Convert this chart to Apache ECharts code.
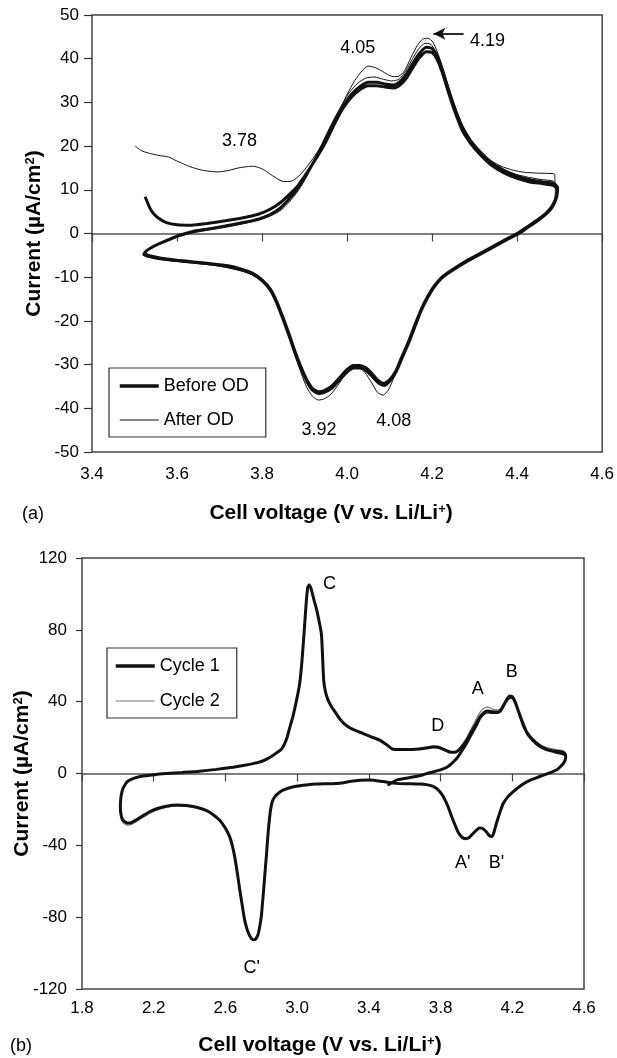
<!DOCTYPE html>
<html>
<head>
<meta charset="utf-8">
<title>Cyclic voltammograms</title>
<script src="https://cdn.jsdelivr.net/npm/echarts@6/dist/echarts.min.js"></script>
<style>
  html, body { margin: 0; padding: 0; background: #fff; }
  #chart { width: 617px; height: 1058px; }
</style>
</head>
<body>
<div id="chart"></div>
<script>
  // ---------- (a) before / after over-discharge ----------
  const xTicksA = { min: 3.4, max: 4.6, interval: 0.2 };
  const yTicksA = { min: -50, max: 50, interval: 10 };

  // thick: before OD, first anodic sweep
  const beforeAnodic1 = [[3.525,8.4],[3.533,6.5],[3.541,5.0],[3.555,3.6],[3.575,2.5],[3.6,2.0],[3.635,1.9],[3.67,2.3],[3.713,2.9],[3.75,3.5],[3.791,4.4],[3.82,5.6],[3.845,7.2],[3.865,9.0],[3.885,11.0],[3.905,13.8],[3.93,17.6],[3.95,21.0],[3.97,25.0],[3.99,28.6],[4.01,31.2],[4.03,32.9],[4.05,33.8],[4.07,33.8],[4.09,33.5],[4.11,33.3],[4.125,34.0],[4.14,35.6],[4.155,38.0],[4.17,40.2],[4.186,41.6],[4.2,41.4],[4.212,39.8],[4.225,36.5],[4.24,31.8],[4.255,27.5],[4.27,23.8],[4.29,20.7],[4.31,18.4],[4.34,15.6],[4.37,13.8],[4.4,12.6],[4.43,11.8],[4.46,11.4],[4.485,11.0],[4.495,10.0]];
  const beforeCathodic1 = [[4.493,8.4],[4.488,7.0],[4.478,5.4],[4.465,4.2],[4.445,2.7],[4.425,1.4],[4.404,0],[4.38,-1.2],[4.35,-2.8],[4.32,-4.4],[4.28,-6.5],[4.25,-8.3],[4.225,-10.0],[4.205,-12.2],[4.19,-14.6],[4.175,-17.5],[4.16,-21.2],[4.145,-25.0],[4.128,-28.8],[4.115,-31.7],[4.1,-33.8],[4.087,-34.8],[4.075,-34.3],[4.06,-32.8],[4.045,-31.4],[4.03,-30.8],[4.015,-30.8],[4.0,-31.7],[3.985,-33.2],[3.965,-35.3],[3.945,-36.4],[3.932,-36.6],[3.918,-35.8],[3.905,-33.8],[3.892,-31.0],[3.878,-27.5],[3.865,-23.8],[3.85,-19.8],[3.835,-16.0],[3.82,-13.0],[3.8,-10.8],[3.776,-9.2],[3.75,-8.3],[3.72,-7.6],[3.68,-7.0],[3.64,-6.6],[3.6,-6.2],[3.56,-5.8],[3.535,-5.3],[3.522,-4.8]];
  const beforeAnodic2 = [[3.528,-4.0],[3.54,-3.2],[3.556,-2.4],[3.58,-1.4],[3.603,-0.5],[3.635,0.4],[3.67,1.0],[3.713,1.7],[3.75,2.4],[3.791,3.3],[3.82,4.4],[3.84,5.6],[3.86,7.5],[3.88,9.8],[3.9,12.8],[3.925,17.0],[3.95,21.6],[3.97,25.6],[3.99,29.0],[4.01,31.8],[4.03,33.6],[4.05,34.6],[4.07,34.6],[4.09,34.2],[4.11,34.0],[4.125,34.8],[4.14,36.6],[4.155,39.0],[4.17,41.2],[4.186,42.6],[4.2,42.3],[4.212,40.6],[4.225,37.2],[4.24,32.5],[4.255,28.2],[4.27,24.5],[4.29,21.3],[4.31,19.0],[4.34,16.2],[4.37,14.4],[4.4,13.1],[4.43,12.3],[4.46,11.8],[4.485,11.5],[4.495,10.5]];
  const beforeCathodic2 = [[4.493,8.8],[4.488,7.3],[4.478,5.7],[4.465,4.4],[4.445,2.9],[4.425,1.6],[4.404,0.2],[4.38,-1.0],[4.35,-2.6],[4.32,-4.2],[4.28,-6.3],[4.25,-8.1],[4.225,-9.8],[4.205,-12.0],[4.19,-14.3],[4.175,-17.2],[4.16,-20.8],[4.145,-24.6],[4.128,-28.4],[4.115,-31.4],[4.1,-33.5],[4.087,-34.3],[4.075,-33.8],[4.06,-32.2],[4.045,-30.8],[4.03,-30.2],[4.015,-30.2],[4.0,-31.1],[3.985,-32.7],[3.965,-34.8],[3.945,-36.0],[3.932,-36.2],[3.918,-35.4],[3.905,-33.4],[3.892,-30.6],[3.878,-27.1],[3.865,-23.4],[3.85,-19.4],[3.835,-15.7],[3.82,-12.8],[3.8,-10.6],[3.776,-9.0],[3.75,-8.1],[3.72,-7.4],[3.68,-6.9],[3.64,-6.5],[3.6,-6.1],[3.56,-5.6],[3.535,-5.1],[3.523,-4.6]];

  // thin: after OD
  const afterAnodic1 = [[3.502,20.0],[3.515,19.0],[3.533,18.4],[3.555,17.9],[3.58,17.5],[3.595,16.8],[3.611,16.1],[3.63,15.3],[3.658,14.5],[3.68,14.2],[3.697,14.1],[3.72,14.4],[3.744,15.0],[3.765,15.3],[3.78,15.4],[3.795,15.0],[3.807,14.4],[3.825,13.2],[3.85,11.9],[3.87,12.0],[3.885,13.0],[3.9,14.6],[3.92,17.2],[3.94,20.2],[3.96,23.8],[3.979,27.5],[4.0,31.8],[4.018,35.0],[4.035,37.2],[4.049,38.3],[4.065,38.0],[4.08,37.3],[4.095,36.4],[4.108,35.9],[4.122,36.0],[4.135,37.2],[4.151,40.4],[4.165,43.0],[4.178,44.5],[4.19,44.7],[4.202,43.8],[4.212,41.6],[4.222,38.8],[4.235,34.6],[4.248,30.6],[4.262,27.0],[4.276,23.9],[4.295,20.8],[4.316,18.4],[4.34,16.6],[4.362,15.4],[4.39,14.5],[4.417,14.0],[4.45,13.8],[4.488,13.6],[4.489,11.5],[4.49,10.0]];
  const afterCathodic1 = [[4.488,7.8],[4.478,6.0],[4.462,4.4],[4.44,2.8],[4.42,1.5],[4.4,0.2],[4.375,-1.2],[4.345,-2.9],[4.31,-4.8],[4.27,-7.0],[4.24,-8.9],[4.218,-10.8],[4.2,-13.0],[4.185,-15.5],[4.17,-18.5],[4.155,-22.0],[4.14,-25.8],[4.125,-29.5],[4.11,-33.0],[4.097,-35.8],[4.085,-37.0],[4.072,-36.4],[4.058,-34.2],[4.042,-31.8],[4.027,-30.6],[4.012,-30.7],[3.998,-32.0],[3.982,-34.2],[3.962,-36.8],[3.945,-37.9],[3.932,-38.1],[3.918,-37.2],[3.905,-35.2],[3.892,-32.0],[3.878,-28.0],[3.864,-24.0],[3.85,-20.0],[3.835,-16.2],[3.82,-13.2],[3.8,-11.0],[3.776,-9.4],[3.75,-8.5],[3.72,-7.8],[3.68,-7.2],[3.64,-6.8],[3.6,-6.4],[3.56,-5.9],[3.535,-5.4],[3.52,-4.9]];
  const afterAnodic2 = [[3.525,-4.2],[3.54,-3.4],[3.556,-2.6],[3.58,-1.7],[3.603,-0.8],[3.635,0.1],[3.67,0.7],[3.713,1.4],[3.75,2.1],[3.791,3.0],[3.82,4.0],[3.845,5.4],[3.865,7.3],[3.885,9.8],[3.905,13.0],[3.925,17.2],[3.945,21.4],[3.965,25.4],[3.985,29.0],[4.005,32.2],[4.025,34.4],[4.045,35.6],[4.065,35.8],[4.085,35.3],[4.105,34.9],[4.122,35.3],[4.138,37.2],[4.153,39.8],[4.168,42.2],[4.183,43.5],[4.197,43.3],[4.209,41.5],[4.222,38.0],[4.237,33.2],[4.252,28.8],[4.267,25.0],[4.285,21.8],[4.306,19.3],[4.335,16.6],[4.365,14.8],[4.395,13.6],[4.43,12.8],[4.46,12.3],[4.485,12.0],[4.493,10.8]];

  const peakTextA = ['3.78', '4.05', '4.19', '3.92', '4.08'];
  const peakAtA = [[3.747,21.1],[4.025,42.4],[4.33,44.0],[3.934,-45.0],[4.11,-42.9]];
  const arrowA = [[4.274,45.7],[4.203,45.7]];

  // ---------- (b) first two cycles 2.0 - 4.5 V ----------
  const xTicksB = { min: 1.8, max: 4.6, interval: 0.4 };
  const yTicksB = { min: -120, max: 120, interval: 40 };

  const cycle1 = [[3.505,-6.5],[3.53,-5.0],[3.553,-3.7],[3.6,-2.8],[3.646,-2.0],[3.7,-0.8],[3.739,0.4],[3.795,1.9],[3.83,3.2],[3.851,4.6],[3.875,6.8],[3.897,9.3],[3.92,12.8],[3.944,16.7],[3.97,21.5],[4.0,27.0],[4.02,31.0],[4.037,33.0],[4.06,34.2],[4.09,34.0],[4.12,34.0],[4.14,36.0],[4.16,39.5],[4.18,42.0],[4.195,42.5],[4.21,41.0],[4.225,37.5],[4.245,31.5],[4.265,26.0],[4.29,21.5],[4.316,18.2],[4.35,15.3],[4.39,13.3],[4.44,12.0],[4.483,11.0],[4.498,10.0],
    [4.495,7.5],[4.483,5.4],[4.465,3.5],[4.446,1.9],[4.42,0.8],[4.39,-0.3],[4.35,-1.8],[4.297,-3.8],[4.25,-6.5],[4.204,-10.2],[4.175,-13.0],[4.148,-17.0],[4.13,-22.0],[4.111,-28.0],[4.097,-33.0],[4.087,-35.0],[4.072,-34.6],[4.056,-32.6],[4.035,-30.6],[4.018,-30.4],[4.0,-31.5],[3.981,-33.4],[3.96,-35.6],[3.935,-36.2],[3.915,-35.0],[3.897,-32.5],[3.88,-28.5],[3.86,-23.5],[3.84,-18.0],[3.813,-12.5],[3.785,-9.0],[3.758,-7.2],[3.72,-6.2],[3.683,-5.9],[3.62,-5.7],[3.553,-5.5],[3.48,-4.5],[3.405,-3.6],[3.35,-3.8],[3.293,-4.5],[3.237,-5.4],[3.18,-5.7],[3.107,-5.9],[3.05,-6.4],[2.995,-7.1],[2.95,-8.2],[2.921,-9.3],[2.895,-11.0],[2.875,-13.0],[2.862,-15.5],[2.852,-20.0],[2.843,-27.8],[2.835,-37.0],[2.828,-46.4],[2.82,-56.0],[2.813,-64.9],[2.806,-73.0],[2.8,-79.8],[2.79,-86.0],[2.782,-89.6],[2.77,-92.0],[2.757,-92.6],[2.744,-91.8],[2.731,-89.5],[2.72,-86.5],[2.707,-81.5],[2.693,-73.0],[2.679,-64.0],[2.665,-54.5],[2.651,-46.0],[2.638,-40.0],[2.624,-35.3],[2.6,-30.5],[2.568,-26.0],[2.53,-22.8],[2.493,-20.6],[2.44,-18.8],[2.382,-17.8],[2.33,-17.6],[2.27,-18.2],[2.22,-19.5],[2.177,-21.3],[2.14,-23.5],[2.103,-25.8],[2.075,-27.3],[2.057,-27.6],[2.04,-27.0],[2.025,-25.5],[2.017,-22.5],[2.014,-19.0],[2.015,-15.5],[2.019,-12.0],[2.026,-9.0],[2.038,-6.5],[2.055,-4.3],[2.084,-2.8],[2.12,-1.8],[2.159,-1.2],[2.21,-0.5],[2.27,0.0],[2.36,0.6],[2.456,1.3],[2.55,2.3],[2.642,3.5],[2.7,4.4],[2.754,5.5],[2.8,6.7],[2.83,8.0],[2.86,9.8],[2.885,11.5],[2.912,13.5],[2.93,16.5],[2.945,20.5],[2.96,26.0],[2.977,32.0],[2.995,40.0],[3.014,50.0],[3.028,64.0],[3.042,83.0],[3.052,97.0],[3.06,104.0],[3.068,105.0],[3.079,102.5],[3.093,97.0],[3.107,92.0],[3.12,86.0],[3.135,78.0],[3.142,65.0],[3.148,52.0],[3.158,45.5],[3.172,41.0],[3.19,37.5],[3.21,34.5],[3.237,30.5],[3.265,27.5],[3.293,25.5],[3.33,23.8],[3.367,22.3],[3.41,20.5],[3.46,18.6],[3.5,16.0],[3.534,13.5],[3.58,13.4],[3.64,13.4],[3.683,13.6],[3.72,14.2],[3.758,14.8],[3.785,14.6],[3.813,13.6],[3.84,12.4],[3.86,11.8],[3.88,11.8],[3.897,12.6],[3.92,15.0],[3.944,18.2],[3.97,22.8],[4.0,28.0],[4.02,31.5],[4.04,33.8],[4.06,34.8],[4.08,34.6],[4.105,34.2],[4.13,34.5],[4.15,37.5],[4.167,40.8],[4.185,43.0],[4.2,42.8],[4.215,40.0],[4.235,34.5],[4.26,27.8],[4.285,22.0],[4.316,18.6],[4.35,15.6],[4.39,13.6],[4.44,12.4],[4.483,11.8],[4.498,10.5]];

  const cycle2 = [[4.498,10.5],[4.495,7.8],[4.483,5.6],[4.465,3.7],[4.446,2.1],[4.42,1.0],[4.39,-0.2],[4.35,-1.7],[4.297,-3.7],[4.25,-6.4],[4.204,-10.0],[4.175,-12.8],[4.148,-16.8],[4.13,-21.8],[4.111,-28.2],[4.097,-33.4],[4.087,-35.6],[4.072,-35.2],[4.056,-33.0],[4.035,-30.8],[4.018,-30.6],[4.0,-31.8],[3.981,-33.8],[3.96,-36.0],[3.935,-36.8],[3.915,-35.6],[3.897,-33.0],[3.88,-28.8],[3.86,-23.6],[3.84,-18.0],[3.813,-12.6],[3.785,-9.1],[3.758,-7.3],[3.72,-6.3],[3.683,-6.0],[3.62,-5.8],[3.553,-5.6],[3.48,-4.6],[3.405,-3.7],[3.35,-3.9],[3.293,-4.6],[3.237,-5.5],[3.18,-5.8],[3.107,-6.0],[3.05,-6.5],[2.995,-7.2],[2.95,-8.3],[2.921,-9.4],[2.895,-11.1],[2.875,-13.1],[2.862,-15.6],[2.852,-20.1],[2.843,-27.9],[2.835,-37.1],[2.828,-46.5],[2.82,-56.1],[2.813,-65.0],[2.806,-73.1],[2.8,-79.9],[2.79,-86.1],[2.782,-89.7],[2.77,-92.1],[2.757,-92.7],[2.744,-91.9],[2.731,-89.6],[2.72,-86.6],[2.707,-81.6],[2.693,-73.1],[2.679,-64.1],[2.665,-54.6],[2.651,-46.1],[2.638,-40.1],[2.624,-35.5],[2.6,-30.8],[2.568,-26.4],[2.53,-23.2],[2.493,-21.0],[2.44,-19.2],[2.382,-18.3],[2.33,-18.2],[2.27,-18.9],[2.22,-20.3],[2.177,-22.2],[2.14,-24.5],[2.103,-26.9],[2.075,-28.4],[2.057,-28.8],[2.04,-28.2],[2.025,-26.6],[2.017,-23.4],[2.014,-19.6],[2.015,-15.8],[2.019,-12.2],[2.026,-9.1],[2.038,-6.6],[2.055,-4.4],[2.084,-2.9],[2.12,-1.9],[2.159,-1.2],[2.21,-0.5],[2.27,0.0],[2.36,0.6],[2.456,1.3],[2.55,2.3],[2.642,3.5],[2.7,4.4],[2.754,5.5],[2.8,6.7],[2.83,8.0],[2.86,9.8],[2.885,11.5],[2.912,13.5],[2.93,16.5],[2.945,20.5],[2.96,26.0],[2.977,32.0],[2.995,40.0],[3.014,50.0],[3.028,64.0],[3.042,83.0],[3.052,96.5],[3.06,103.5],[3.068,104.5],[3.079,102.0],[3.093,96.5],[3.107,91.5],[3.12,85.5],[3.135,77.5],[3.142,64.5],[3.148,51.5],[3.158,45.0],[3.172,40.6],[3.19,37.2],[3.21,34.2],[3.237,30.2],[3.265,27.2],[3.293,25.2],[3.33,23.5],[3.367,22.0],[3.41,20.2],[3.46,18.3],[3.5,15.8],[3.534,13.6],[3.58,13.6],[3.64,13.7],[3.683,14.0],[3.72,14.7],[3.758,15.4],[3.785,15.2],[3.813,14.2],[3.84,12.8],[3.86,12.0],[3.88,12.2],[3.897,13.2],[3.92,16.0],[3.944,19.8],[3.97,24.8],[4.0,30.4],[4.02,34.0],[4.04,36.2],[4.06,37.0],[4.08,36.4],[4.105,35.4],[4.13,35.6],[4.15,38.4],[4.167,41.6],[4.185,43.6],[4.2,43.2],[4.215,40.6],[4.235,35.4],[4.26,28.8],[4.285,23.2],[4.316,19.6],[4.35,16.6],[4.39,14.6],[4.44,13.4],[4.483,12.8],[4.498,11.5]];

  const peakTextB = ['C', "C'", 'D', 'A', 'B', "A'", "B'"];
  const peakAtB = [[3.181,105.5],[2.746,-108.3],[3.784,26.5],[4.007,47.1],[4.197,56.5],[3.923,-49.8],[4.112,-49.8]];

  // ---------- chart ----------
  const font = 'Liberation Sans, Arial, Helvetica, sans-serif';
  const ink = '#000';
  const chart = echarts.init(document.getElementById('chart'), null, { renderer: 'canvas' });

  function tickFmt(v) { return Number(v).toFixed(1); }

  const supStyle = { fontSize: 13, fontWeight: 'bold', fontFamily: font, color: ink, verticalAlign: 'top' };

  function labelAxisX(gridIndex, ticks, gap, margin, shift) {
    return {
      gridIndex: gridIndex, type: 'value', position: 'bottom',
      min: ticks.min, max: ticks.max, interval: ticks.interval,
      axisLine: { show: false, onZero: false },
      axisTick: { show: false },
      splitLine: { show: false },
      axisLabel: { color: ink, fontSize: 17, fontFamily: font, margin: margin, formatter: tickFmt },
      name: 'Cell voltage (V vs. Li/Li{sup|+})',
      nameLocation: 'middle', nameGap: gap,
      nameTextStyle: {
        color: ink, fontSize: 21, fontWeight: 'bold', fontFamily: font,
        padding: [0, shift, 0, 0],
        rich: { sup: supStyle }
      }
    };
  }

  function zeroAxisX(gridIndex, ticks, tickLen) {
    return {
      gridIndex: gridIndex, type: 'value', position: 'bottom',
      min: ticks.min, max: ticks.max, interval: ticks.interval,
      axisLine: { show: true, onZero: true, lineStyle: { color: '#555', width: 1.5 } },
      axisTick: { show: true, length: tickLen, lineStyle: { color: '#444', width: 1.2 } },
      axisLabel: { show: false },
      splitLine: { show: false }
    };
  }

  function valueAxisY(gridIndex, ticks, gap, margin, tickLen) {
    return {
      gridIndex: gridIndex, type: 'value',
      min: ticks.min, max: ticks.max, interval: ticks.interval,
      axisLine: { show: false, onZero: false },
      axisTick: { show: true, length: tickLen, lineStyle: { color: '#333', width: 1.2 } },
      splitLine: { show: false },
      axisLabel: { color: ink, fontSize: 17, fontFamily: font, margin: margin },
      name: 'Current (µA/cm{sup|2})',
      nameLocation: 'middle', nameGap: gap,
      nameMoveOverlap: false,
      nameTextStyle: {
        color: ink, fontSize: 21, fontWeight: 'bold', fontFamily: font,
        rich: { sup: supStyle }
      }
    };
  }

  function curve(name, idx, data, width, color) {
    return {
      name: name, type: 'line', xAxisIndex: idx * 2, yAxisIndex: idx,
      data: data, symbol: 'none', showSymbol: false, smooth: 0.2,
      lineStyle: { width: width, color: color }, itemStyle: { color: color },
      silent: true
    };
  }

  // scatter defaults to 0.8 opacity, which would grey the text
  function peakLabels(idx, texts, at) {
    return {
      type: 'scatter', xAxisIndex: idx * 2, yAxisIndex: idx,
      symbolSize: 0, silent: true,
      itemStyle: { color: 'transparent', opacity: 1 },
      data: at.map((p, i) => ({ name: texts[i], value: p })),
      label: {
        show: true, position: 'inside', formatter: '{b}',
        color: ink, fontSize: 18, fontFamily: font,
        textBorderWidth: 0, textBorderColor: 'transparent'
      }
    };
  }

  const legendBase = {
    orient: 'vertical', itemWidth: 39, itemHeight: 14,
    borderColor: '#333', borderWidth: 1.2, backgroundColor: '#fff',
    selectedMode: false,
    itemStyle: { opacity: 0 },
    textStyle: { color: ink, fontSize: 18, fontFamily: font, lineHeight: 18 }
  };

  const option = {
    animation: false,
    backgroundColor: '#fff',
    textStyle: { fontFamily: font },
    grid: [
      { left: 92, top: 15, width: 512, height: 437, show: true, borderColor: '#444', borderWidth: 1.5, backgroundColor: 'transparent' },
      { left: 82, top: 558, width: 502, height: 431, show: true, borderColor: '#444', borderWidth: 1.5, backgroundColor: 'transparent' }
    ],
    legend: [
      Object.assign({}, legendBase, {
        data: [
          { name: 'Before OD', lineStyle: { width: 3.5, color: '#111' } },
          { name: 'After OD', lineStyle: { width: 1, color: '#111' } }
        ],
        left: 109, top: 368, itemGap: 16, padding: [9, 17, 8, 9]
      }),
      Object.assign({}, legendBase, {
        data: [
          { name: 'Cycle 1', lineStyle: { width: 3.5, color: '#111' } },
          { name: 'Cycle 2', lineStyle: { width: 1.2, color: '#777' } }
        ],
        left: 107, top: 648, itemGap: 17, padding: [9, 17, 8, 7]
      })
    ],
    xAxis: [
      labelAxisX(0, xTicksA, 51, 14, 32),
      zeroAxisX(0, xTicksA, 8),
      labelAxisX(1, xTicksB, 46, 11, 26),
      zeroAxisX(1, xTicksB, 8)
    ],
    yAxis: [
      valueAxisY(0, yTicksA, 47, 13, 8),
      valueAxisY(1, yTicksB, 49, 15, 6)
    ],
    series: [
      curve('Before OD', 0, beforeAnodic1.concat(beforeCathodic1, beforeAnodic2, beforeCathodic2), 3, '#111'),
      curve('After OD', 0, afterAnodic1.concat(afterCathodic1, afterAnodic2), 1, '#111'),
      peakLabels(0, peakTextA, peakAtA),
      {
        type: 'line', xAxisIndex: 0, yAxisIndex: 0, data: [], silent: true,
        markLine: {
          silent: true, symbol: ['none', 'arrow'], symbolSize: [9, 12],
          label: { show: false },
          lineStyle: { color: '#111', width: 1.8, type: 'solid' },
          data: [[{ coord: arrowA[0] }, { coord: arrowA[1] }]]
        }
      },
      curve('Cycle 2', 1, cycle2, 1.2, '#777'),
      curve('Cycle 1', 1, cycle1, 3, '#111'),
      peakLabels(1, peakTextB, peakAtB)
    ],
    graphic: [
      { type: 'text', left: 22, top: 505, style: { text: '(a)', fontSize: 18, fontFamily: font, fill: ink } },
      { type: 'text', left: 10, top: 1037, style: { text: '(b)', fontSize: 18, fontFamily: font, fill: ink } }
    ]
  };

  chart.setOption(option);
</script>
</body>
</html>
